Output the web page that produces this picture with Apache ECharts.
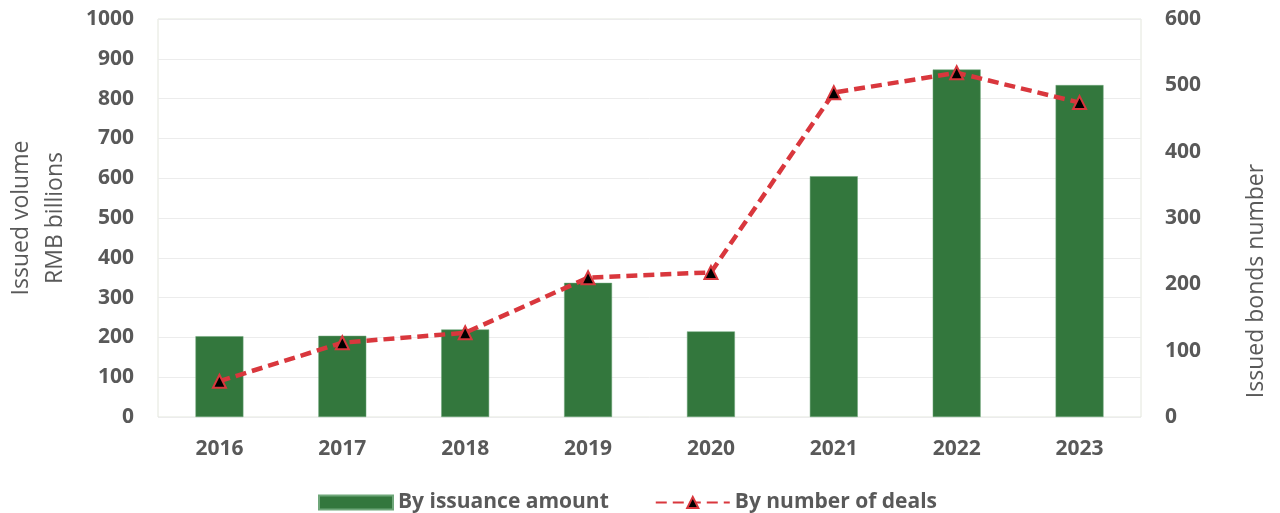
<!DOCTYPE html>
<html>
<head>
<meta charset="utf-8">
<script src="https://cdn.jsdelivr.net/npm/echarts@6/dist/echarts.min.js"></script>
<style>
  html, body { margin: 0; padding: 0; background: #ffffff; }
  #chart { width: 1280px; height: 513px; }
</style>
</head>
<body>
<div id="chart"></div>
<script>
// Green bond issuance by year
const years = ['2016', '2017', '2018', '2019', '2020', '2021', '2022', '2023'];
// Issued volume, RMB billions (left axis)
const issuanceAmount = [203, 204, 220, 337, 215, 605, 873, 834];
// Number of bonds issued (right axis)
const dealCount = [54, 112, 127, 210, 218, 489, 519, 474];

const textColor = '#595959';
const font = '"Open Sans", "DejaVu Sans", sans-serif';
const plain = v => String(v);

const chart = echarts.init(document.getElementById('chart'), null, { renderer: 'canvas' });
chart.setOption({
  animation: false,
  backgroundColor: '#ffffff',
  textStyle: { fontFamily: font, color: textColor },
  grid: {
    left: 158, right: 139, top: 19, bottom: 96,
    outerBoundsMode: 'none',
    containLabel: false,
    show: true, borderColor: '#e3e6dc', borderWidth: 1
  },
  legend: {
    top: 487,
    left: 313,
    itemGap: 46,
    itemWidth: 74,
    itemHeight: 14,
    textStyle: { fontFamily: font, fontSize: 21, fontWeight: 'bold', color: textColor },
    data: [
      { name: 'By issuance amount', icon: 'rect' },
      { name: 'By number of deals' }
    ]
  },
  xAxis: {
    type: 'category',
    data: years,
    axisLine: { show: false },
    axisTick: { show: false },
    axisLabel: { fontFamily: font, fontSize: 21, fontWeight: 'bold', color: textColor, margin: 22 }
  },
  yAxis: [
    {
      type: 'value',
      min: 0, max: 1000, interval: 100,
      name: 'Issued volume\nRMB billions',
      nameLocation: 'middle',
      nameGap: 86,
      nameRotate: 90,
      nameTextStyle: { fontFamily: font, fontSize: 23, color: textColor, lineHeight: 34 },
      axisLine: { show: false },
      axisTick: { show: false },
      axisLabel: { fontFamily: font, fontSize: 21, fontWeight: 'bold', color: textColor, margin: 24, formatter: plain },
      splitLine: { lineStyle: { color: '#ececec', width: 1 } }
    },
    {
      type: 'value',
      min: 0, max: 600, interval: 100,
      name: 'Issued bonds number',
      nameLocation: 'middle',
      nameGap: 104,
      nameRotate: 90,
      nameTextStyle: { fontFamily: font, fontSize: 23, color: textColor, padding: [0, 126, 0, 0] },
      axisLine: { show: false },
      axisTick: { show: false },
      axisLabel: { fontFamily: font, fontSize: 21, fontWeight: 'bold', color: textColor, margin: 24, formatter: plain },
      splitLine: { show: false }
    }
  ],
  series: [
    {
      name: 'By issuance amount',
      type: 'bar',
      yAxisIndex: 0,
      data: issuanceAmount,
      barWidth: '39%',
      itemStyle: { color: '#33773d', borderColor: '#6fa77a', borderWidth: 0.5 }
    },
    {
      name: 'By number of deals',
      type: 'line',
      yAxisIndex: 1,
      data: dealCount,
      symbol: 'triangle',
      symbolSize: 13,
      lineStyle: { color: '#d9373d', width: 4.5, type: [11, 6] },
      itemStyle: { color: '#000000', borderColor: '#d9373d', borderWidth: 2 },
      z: 3
    }
  ]
});
</script>
</body>
</html>
